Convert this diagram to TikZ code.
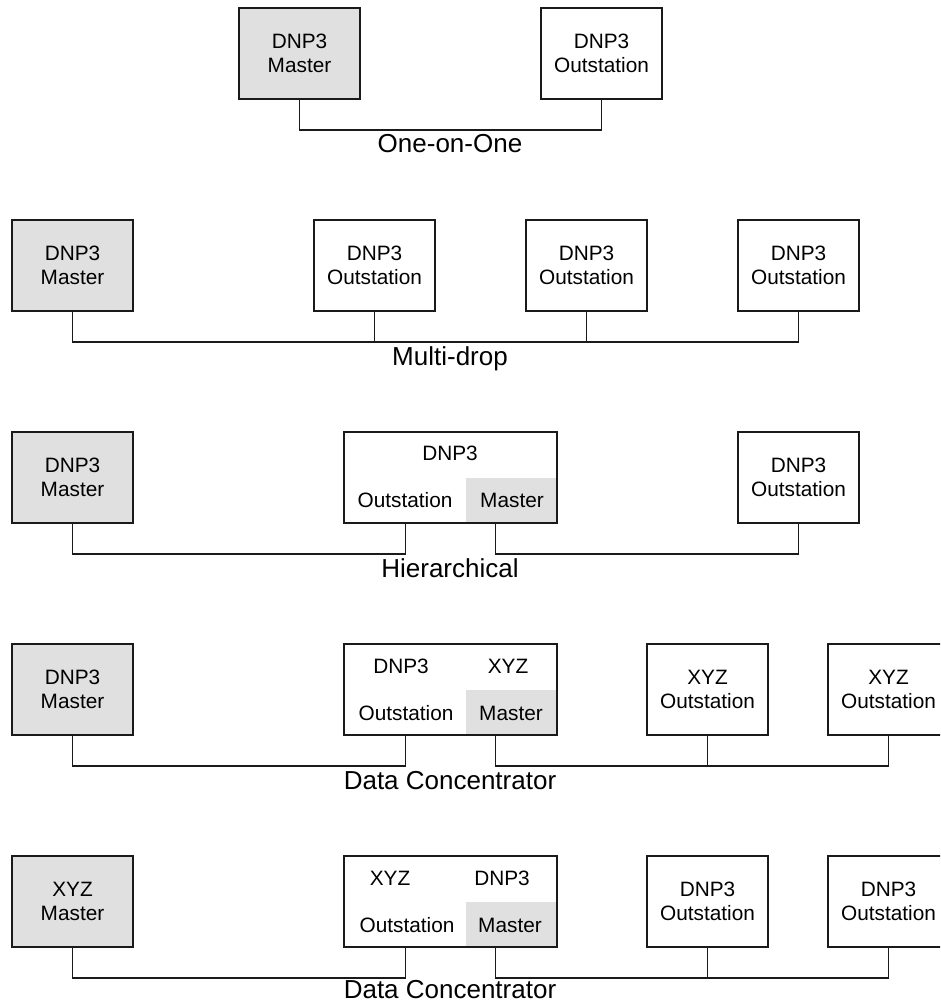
\documentclass[tikz,border=0pt]{standalone}
\usepackage{fontspec}
\setmainfont{Liberation Sans}
\usetikzlibrary{calc}
\definecolor{shade}{HTML}{E0E0E0}
\definecolor{ink}{HTML}{1A1A1A}

\begin{document}
\begin{tikzpicture}[x=0.75pt,y=-0.75pt,
	font=\fontsize{15.6}{18}\selectfont,
	unit/.style={draw=ink,line width=1.2pt,minimum width=90.75pt,minimum height=68.25pt,inner sep=0pt,align=center},
	master/.style={unit,fill=shade},
	conc/.style={draw=ink,line width=1.2pt,minimum width=159.75pt,minimum height=68.25pt,inner sep=0pt},
	cell/.style={fill=shade,minimum width=68.25pt,minimum height=34.1pt,inner sep=0pt},
	wire/.style={draw=ink,line width=1.2pt},
	caption/.style={font=\fontsize{19.5}{23}\selectfont,anchor=base}]
	\clip (0,0) rectangle (940,1005);
	% one-on-one
	\begin{scope}[shift={(0,8)}]
		\node[master] (m1) at (299.5,45.5) {DNP3\\Master};
		\node[unit] (o1) at (601.5,45.5) {DNP3\\Outstation};
		\draw[wire] (m1.south) -- ++(0,30) -| (o1.south);
		\node[caption] (l1) at (450,145) {One-on-One};
	\end{scope}
	% multi-drop
	\begin{scope}[shift={(0,220)}]
		\node[master] (m2) at (72.5,45.5) {DNP3\\Master};
		\foreach \name/\xpos in {o2a/374.5, o2b/586.5, o2c/798.5} {
			\node[unit] (\name) at (\xpos,45.5) {DNP3\\Outstation};
		}
		\draw[wire] (m2.south) -- ++(0,30) -| (o2c.south);
		\foreach \name in {o2a,o2b} {
			\draw[wire] (\name.south) -- ++(0,30);
		}
		\node[caption] (l2) at (450,145) {Multi-drop};
	\end{scope}
	% hierarchical
	\begin{scope}[shift={(0,432)}]
		\node[master] (m3) at (72.5,45.5) {DNP3\\Master};
		\node[cell] (c3) at (511.5,68.25) {};
		\node[conc] (dc3) at (450.5,45.5) {};
		\node (dc3t) at (450,21) {DNP3};
		\node (dc3o) at (405,68) {Outstation};
		\node (dc3m) at (512,68) {Master};
		\node[unit] (o3) at (798.5,45.5) {DNP3\\Outstation};
		\draw[wire] (m3.south) -- ++(0,30) -| ($(dc3.south)+(-45,0)$);
		\draw[wire] ($(dc3.south)+(45,0)$) -- ++(0,30) -| (o3.south);
		\node[caption] (l3) at (450,145) {Hierarchical};
	\end{scope}
	% data concentrator, DNP3 to XYZ
	\begin{scope}[shift={(0,644)}]
		\node[master] (m4) at (72.5,45.5) {DNP3\\Master};
		\node[cell] (c4) at (511.5,68.25) {};
		\node[conc] (dc4) at (450.5,45.5) {};
		\node (dc4t) at (401,22) {DNP3};
		\node (dc4u) at (508,22) {XYZ};
		\node (dc4o) at (406,69) {Outstation};
		\node (dc4m) at (511,69) {Master};
		\node[unit] (o4a) at (707.5,45.5) {XYZ\\Outstation};
		\node[unit] (o4b) at (888.5,45.5) {XYZ\\Outstation};
		\draw[wire] (m4.south) -- ++(0,30) -| ($(dc4.south)+(-45,0)$);
		\draw[wire] ($(dc4.south)+(45,0)$) -- ++(0,30) -| (o4b.south);
		\draw[wire] (o4a.south) -- ++(0,30);
		\node[caption] (l4) at (450,145) {Data Concentrator};
	\end{scope}
	% data concentrator, XYZ to DNP3
	\begin{scope}[shift={(0,856)}]
		\node[master] (m5) at (72.5,45.5) {XYZ\\Master};
		\node[cell] (c5) at (511.5,68.25) {};
		\node[conc] (dc5) at (450.5,45.5) {};
		\node (dc5t) at (390,22) {XYZ};
		\node (dc5u) at (502,22) {DNP3};
		\node (dc5o) at (407,69) {Outstation};
		\node (dc5m) at (510,69) {Master};
		\node[unit] (o5a) at (707.5,45.5) {DNP3\\Outstation};
		\node[unit] (o5b) at (888.5,45.5) {DNP3\\Outstation};
		\draw[wire] (m5.south) -- ++(0,30) -| ($(dc5.south)+(-45,0)$);
		\draw[wire] ($(dc5.south)+(45,0)$) -- ++(0,30) -| (o5b.south);
		\draw[wire] (o5a.south) -- ++(0,30);
		\node[caption] (l5) at (450,142) {Data Concentrator};
	\end{scope}
\end{tikzpicture}
\end{document}
